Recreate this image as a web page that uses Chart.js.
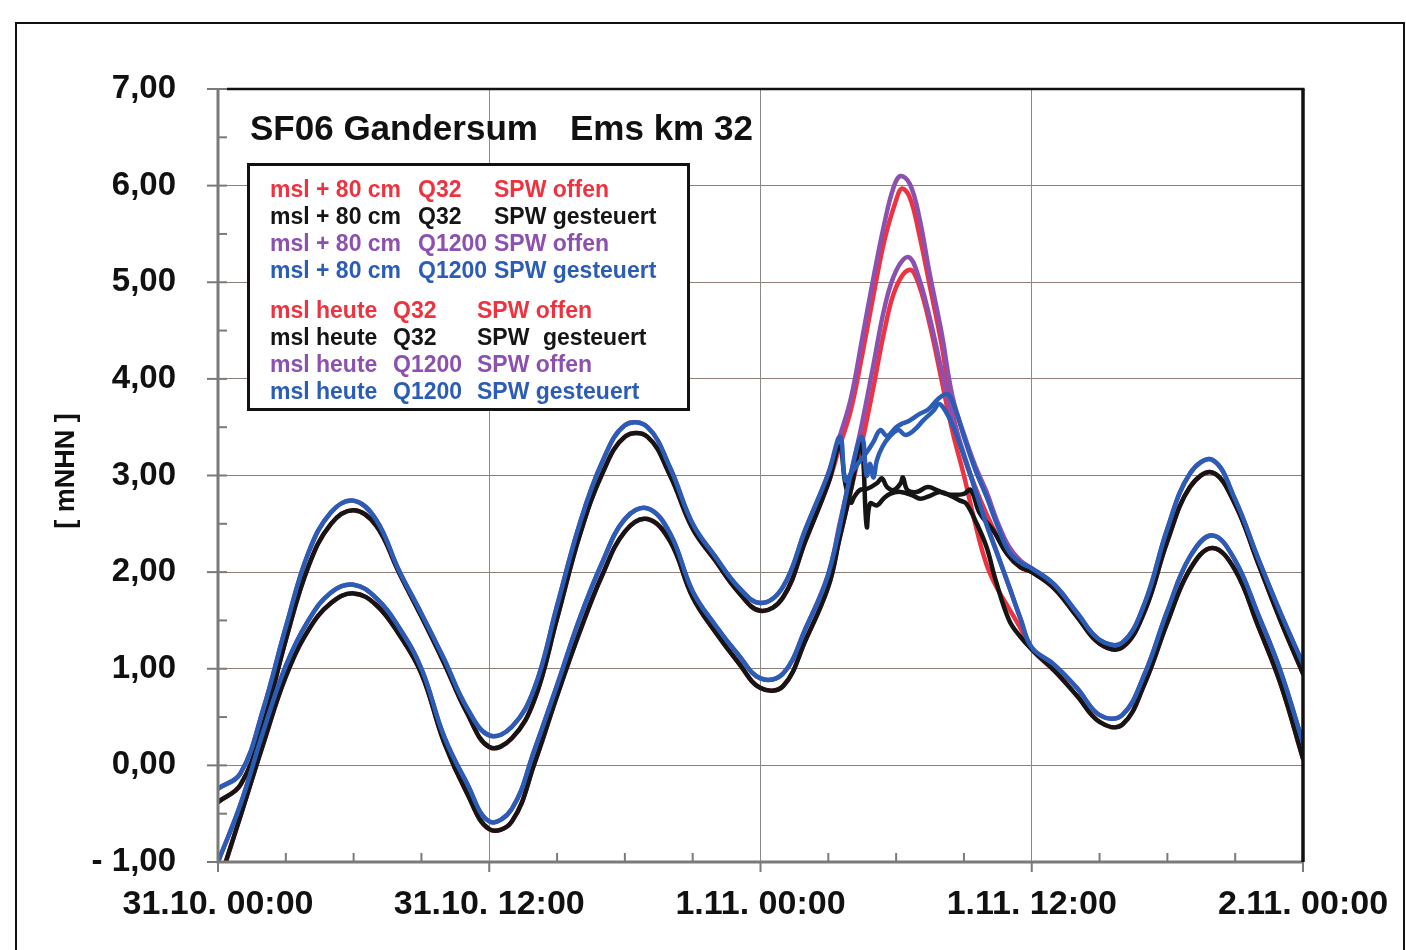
<!DOCTYPE html>
<html>
<head>
<meta charset="utf-8">
<script src="https://cdn.jsdelivr.net/npm/chart.js@4.4.1/dist/chart.umd.min.js"></script>
<style>
html,body{margin:0;padding:0;background:#fff;}
canvas{display:block;}
</style>
</head>
<body>
<canvas id="c" width="1406" height="950"></canvas>
<script>
// ---------- DATA ----------
const hours = [0,1,2,3,4,5,6,7,8,9,10,11,12,13,14,15,16,17,18,19,20,21,22,23,24,25,26,27,28,29,30,31,32,33,34,35,36,37,38,39,40,41,42,43,44,45,46,47,48];
const xTickLabels = ['31.10. 00:00','31.10. 12:00','1.11. 00:00','1.11. 12:00','2.11. 00:00'];

// base curves (offen and gesteuert identical outside the surge window 28..35 h)
const up32   = [-0.38,-0.20,0.42,1.30,2.06,2.50,2.64,2.48,2.00,1.54,1.06,0.55,0.19,0.28,0.68,1.52,2.38,3.02,3.40,3.40,3.00,2.45,2.12,1.80,1.60,1.74,2.33,2.92,null,null,null,null,null,null,null,null,2.00,1.83,1.54,1.26,1.22,1.60,2.32,2.88,3.03,2.70,2.10,1.50,0.95];
const up1200 = [-0.24,-0.08,0.58,1.43,2.20,2.62,2.74,2.54,2.02,1.57,1.10,0.60,0.31,0.40,0.80,1.65,2.50,3.14,3.52,3.50,3.08,2.50,2.16,1.85,1.68,1.85,2.45,3.02,null,null,null,null,null,null,null,null,2.04,1.87,1.58,1.30,1.27,1.68,2.45,3.02,3.16,2.75,2.15,1.58,1.05];
const lo32   = [-1.25,-0.52,0.22,0.92,1.40,1.68,1.78,1.66,1.36,0.95,0.24,-0.28,-0.66,-0.58,0.02,0.72,1.38,1.97,2.42,2.55,2.32,1.74,1.38,1.07,0.80,0.82,1.30,1.85,null,null,null,null,null,null,null,null,1.20,0.98,0.72,0.45,0.42,0.85,1.48,2.03,2.25,2.02,1.45,0.85,0.07];
const lo1200 = [-1.00,-0.40,0.35,1.03,1.50,1.79,1.87,1.73,1.43,1.00,0.30,-0.18,-0.58,-0.45,0.16,0.83,1.52,2.10,2.55,2.66,2.40,1.80,1.45,1.15,0.90,0.95,1.42,1.98,null,null,null,null,null,null,null,null,1.22,1.04,0.80,0.52,0.52,0.95,1.60,2.16,2.38,2.12,1.57,0.98,0.23];

// surge window: msl + 80 cm
const upRedT    = [27.5,28,28.5,29,29.5,30,30.25,30.6,31,31.5,32,32.5,33,33.5,34,34.5,35,35.5];
const upRed     = [3.30,3.68,4.25,4.87,5.45,5.85,5.97,5.88,5.52,4.95,4.37,3.65,3.20,2.88,2.60,2.36,2.16,2.05];
const upPurpleT = [27.5,28,28.5,29,29.5,29.9,30.2,30.6,31,31.5,32,32.5,33,33.5,34,34.5,35,35.5];
const upPurple  = [3.40,3.80,4.42,5.05,5.63,5.99,6.10,6.02,5.70,5.07,4.49,3.81,3.43,3.10,2.83,2.51,2.26,2.12];
const upBlackT  = [27.5,27.75,28.0,28.15,28.4,28.7,29.15,29.37,29.6,29.9,30.2,30.3,30.5,30.9,31.4,31.8,32.2,32.6,33.0,33.3,33.7,34.3,34.9,35.5];
const upBlack   = [3.30,2.92,2.72,2.78,2.85,2.86,2.92,2.97,2.88,2.85,2.92,2.98,2.85,2.83,2.88,2.85,2.81,2.80,2.81,2.85,2.61,2.43,2.19,2.05];
const upBlueT   = [27.52,27.75,28.0,28.3,28.7,29.0,29.3,29.6,30.0,30.3,30.6,31.06,31.4,31.65,32.0,32.3,32.6,33.0,33.5,34.0,34.5,35.0,35.5];
const upBlue    = [3.40,2.95,3.02,3.12,3.24,3.35,3.47,3.41,3.50,3.54,3.57,3.64,3.68,3.74,3.82,3.84,3.70,3.40,3.06,2.78,2.47,2.21,2.10];

// surge window: msl heute
const loRedT    = [27.5,28,28.5,29,29.5,30,30.6,31,31.5,32,32.5,33,33.5,34,34.5,35,35.5];
const loRed     = [2.35,2.85,3.35,3.92,4.52,4.95,5.13,4.98,4.55,4.00,3.45,3.00,2.50,2.08,1.82,1.62,1.42];
const loPurpleT = [27.5,28,28.5,29,29.5,30,30.55,31,31.5,32,32.5,33,33.5,34,34.5,35,35.5];
const loPurple  = [2.50,3.02,3.55,4.15,4.75,5.12,5.26,5.05,4.62,4.10,3.60,3.22,2.86,2.50,2.18,1.85,1.52];
const loBlackT  = [27.5,28.0,28.45,28.7,28.85,29.15,29.44,29.73,30.2,30.77,31.06,31.5,31.95,32.5,32.83,33.1,33.57,34.0,34.4,35.0,35.5];
const loBlack   = [2.35,2.85,3.32,2.47,2.71,2.69,2.76,2.81,2.83,2.79,2.76,2.79,2.83,2.78,2.74,2.71,2.50,2.26,1.92,1.50,1.33];
const loBlueT   = [28.0,28.48,28.7,28.85,29.0,29.15,29.4,29.7,30.1,30.4,30.8,31.2,31.65,31.9,32.2,32.5,33.0,33.5,34.0,34.5,35.0,35.5];
const loBlue    = [3.02,3.40,3.00,3.12,2.98,3.16,3.30,3.40,3.47,3.42,3.47,3.57,3.67,3.74,3.66,3.52,3.20,2.85,2.49,2.17,1.85,1.52];

const yTickMin = -1, yTickMax = 7;

// ---------- STYLE ----------
const RED = '#EE3340', PURPLE = '#8C50B0', BLUE = '#2B5CB6', BLACK = '#151515';
const FONT = '"Liberation Sans", Arial, Helvetica, sans-serif';

function series(base, t, v) {
  const pts = [];
  hours.forEach((h, i) => {
    if (base[i] !== null && (h < t[0] || h > t[t.length - 1])) pts.push({x: h, y: base[i]});
  });
  t.forEach((tt, i) => pts.push({x: tt, y: v[i]}));
  pts.sort((a, b) => a.x - b.x);
  return pts;
}

function ds(label, data, color, order) {
  return {
    label, data, borderColor: color, backgroundColor: color,
    borderWidth: 4.5, pointRadius: 0, pointHoverRadius: 0,
    tension: 0.4, borderJoinStyle: 'round', borderCapStyle: 'round',
    fill: false, order
  };
}

const datasets = [
  ds('msl + 80 cm Q32 SPW offen',        series(up32,   upRedT,    upRed),    RED,    7),
  ds('msl + 80 cm Q32 SPW gesteuert',    series(up32,   upBlackT,  upBlack),  BLACK,  3),
  ds('msl + 80 cm Q1200 SPW offen',      series(up1200, upPurpleT, upPurple), PURPLE, 5),
  ds('msl + 80 cm Q1200 SPW gesteuert',  series(up1200, upBlueT,   upBlue),   BLUE,   1),
  ds('msl heute Q32 SPW offen',          series(lo32,   loRedT,    loRed),    RED,    8),
  ds('msl heute Q32 SPW gesteuert',      series(lo32,   loBlackT,  loBlack),  BLACK,  4),
  ds('msl heute Q1200 SPW offen',        series(lo1200, loPurpleT, loPurple), PURPLE, 6),
  ds('msl heute Q1200 SPW gesteuert',    series(lo1200, loBlueT,   loBlue),   BLUE,   2)
];

const legendRows = [
  {y: 197, color: RED,    parts: [['msl + 80 cm', 270], ['Q32', 418], ['SPW offen', 494]]},
  {y: 224, color: BLACK,  parts: [['msl + 80 cm', 270], ['Q32', 418], ['SPW gesteuert', 494]]},
  {y: 251, color: PURPLE, parts: [['msl + 80 cm', 270], ['Q1200', 418], ['SPW offen', 494]]},
  {y: 278, color: BLUE,   parts: [['msl + 80 cm', 270], ['Q1200', 418], ['SPW gesteuert', 494]]},
  {y: 318, color: RED,    parts: [['msl heute', 270], ['Q32', 393], ['SPW offen', 477]]},
  {y: 345, color: BLACK,  parts: [['msl heute', 270], ['Q32', 393], ['SPW', 477], ['gesteuert', 543]]},
  {y: 372, color: PURPLE, parts: [['msl heute', 270], ['Q1200', 393], ['SPW offen', 477]]},
  {y: 399, color: BLUE,   parts: [['msl heute', 270], ['Q1200', 393], ['SPW gesteuert', 477]]}
];

const decorPlugin = {
  id: 'decor',
  afterDatasetsDraw(chart) {
    const ctx = chart.ctx, a = chart.chartArea, xs = chart.scales.x, ys = chart.scales.y;
    ctx.save();
    // grey left / bottom axes
    ctx.strokeStyle = '#7a7a7a';
    ctx.lineWidth = 3;
    ctx.beginPath();
    ctx.moveTo(a.left, a.top); ctx.lineTo(a.left, a.bottom); ctx.lineTo(a.right, a.bottom);
    ctx.stroke();
    ctx.lineWidth = 2;
    for (let v = yTickMin; v <= yTickMax; v += 0.5) {
      const y = ys.getPixelForValue(v);
      ctx.beginPath();
      ctx.moveTo(Number.isInteger(v) ? a.left - 11 : a.left, y);
      ctx.lineTo(a.left + 9, y);
      ctx.stroke();
    }
    for (let h = 0; h <= 48; h += 3) {
      const x = xs.getPixelForValue(h);
      ctx.beginPath();
      if (h % 12 === 0) { ctx.moveTo(x, a.bottom); ctx.lineTo(x, a.bottom + 10); }
      else { ctx.moveTo(x, a.bottom - 9); ctx.lineTo(x, a.bottom); }
      ctx.stroke();
    }
    // black top / right borders
    ctx.strokeStyle = '#111';
    ctx.lineWidth = 2.5;
    ctx.beginPath(); ctx.moveTo(a.left + 9, a.top); ctx.lineTo(a.right + 1.5, a.top); ctx.stroke();
    ctx.lineWidth = 3.5;
    ctx.beginPath(); ctx.moveTo(a.right, a.top); ctx.lineTo(a.right, a.bottom); ctx.stroke();

    // title
    ctx.fillStyle = '#111';
    ctx.font = 'bold 35px ' + FONT;
    ctx.textBaseline = 'alphabetic';
    ctx.textAlign = 'left';
    ctx.fillText('SF06 Gandersum', 250, 140);
    ctx.fillText('Ems km 32', 570, 140);

    // legend box
    ctx.fillStyle = '#fff';
    ctx.fillRect(248, 163, 441, 247);
    ctx.strokeStyle = '#111';
    ctx.lineWidth = 3;
    ctx.strokeRect(248.5, 164.5, 440, 245);
    ctx.font = 'bold 23px ' + FONT;
    legendRows.forEach(r => {
      ctx.fillStyle = r.color;
      r.parts.forEach(p => ctx.fillText(p[0], p[1], r.y));
    });

    // y axis title
    ctx.save();
    ctx.translate(67, 471);
    ctx.rotate(-Math.PI / 2);
    ctx.textAlign = 'center';
    ctx.textBaseline = 'middle';
    ctx.fillStyle = '#111';
    ctx.font = 'bold 27px ' + FONT;
    ctx.fillText('[ mNHN ]', 0, 0);
    ctx.restore();

    // outer frame
    ctx.strokeStyle = '#111';
    ctx.lineWidth = 2;
    ctx.strokeRect(16, 23, 1388, 960);
    ctx.restore();
  }
};

const gridColor = '#8e7f79';

new Chart(document.getElementById('c'), {
  type: 'line',
  data: {datasets},
  options: {
    responsive: false,
    animation: false,
    devicePixelRatio: 1,
    layout: {padding: {left: 0, right: 103, top: 89, bottom: 0}},
    plugins: {legend: {display: false}, tooltip: {enabled: false}, title: {display: false}},
    scales: {
      x: {
        type: 'linear', min: 0, max: 48,
        border: {display: false},
        grid: {
          drawTicks: false, lineWidth: 1,
          color: c => (c.tick && (c.tick.value === 12 || c.tick.value === 24)) ? '#8a8a8a'
                    : (c.tick && c.tick.value === 36) ? '#a08276' : 'rgba(0,0,0,0)'
        },
        ticks: {
          stepSize: 12, maxRotation: 0, autoSkip: false, padding: 22,
          color: '#111', font: {family: FONT, size: 34, weight: 'bold'},
          callback: v => xTickLabels[v / 12]
        },
        afterFit: s => { s.height = 88; s.paddingLeft = 0; s.paddingRight = 0; }
      },
      y: {
        type: 'linear', min: yTickMin, max: yTickMax,
        border: {display: false},
        grid: {
          drawTicks: false, lineWidth: 1,
          color: c => (c.tick && c.tick.value > yTickMin && c.tick.value < yTickMax) ? gridColor : 'rgba(0,0,0,0)'
        },
        ticks: {
          stepSize: 1, padding: 42, color: '#111',
          font: {family: FONT, size: 33, weight: 'bold'},
          callback: v => (v < 0 ? '- ' : '') + Math.abs(v).toFixed(2).replace('.', ',')
        },
        afterFit: s => { s.width = 218; s.paddingTop = 0; s.paddingBottom = 0; }
      }
    }
  },
  plugins: [decorPlugin]
});
</script>
</body>
</html>
